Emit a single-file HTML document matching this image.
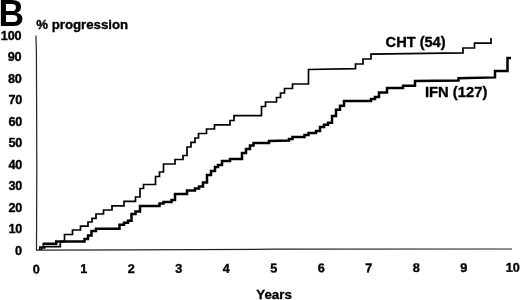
<!DOCTYPE html>
<html><head><meta charset="utf-8"><title>B</title>
<style>
html,body{margin:0;padding:0;background:#fff;}
body{width:520px;height:300px;overflow:hidden;}
svg{display:block;}
text{font-family:"Liberation Sans",Arial,Helvetica,sans-serif;font-weight:bold;fill:#000;stroke:#000;stroke-width:0.35px;}
.t{font-size:12.7px;letter-spacing:-0.2px;}
.l{font-size:14.6px;}
</style></head><body>
<svg width="520" height="300" viewBox="0 0 520 300">
<rect width="520" height="300" fill="#fff"/>
<text x="-1.6" y="26.1" font-size="36" style="stroke-width:0" textLength="25.6" lengthAdjust="spacingAndGlyphs">B</text>
<text x="36.2" y="29" font-size="13.4" textLength="92" lengthAdjust="spacingAndGlyphs">% progression</text>
<g class="t">
<text x="21.4" y="39.60" text-anchor="end">100</text>
<text x="21.4" y="61.12" text-anchor="end">90</text>
<text x="21.7" y="82.65" text-anchor="end">80</text>
<text x="22.1" y="104.17" text-anchor="end">70</text>
<text x="22.1" y="125.70" text-anchor="end">60</text>
<text x="22.1" y="147.22" text-anchor="end">50</text>
<text x="22.1" y="168.75" text-anchor="end">40</text>
<text x="22.1" y="190.27" text-anchor="end">30</text>
<text x="22.1" y="211.80" text-anchor="end">20</text>
<text x="22.1" y="233.32" text-anchor="end">10</text>
<text x="21.9" y="254.85" text-anchor="end">0</text>
</g>
<g class="t" transform="rotate(-0.17 36.4 250)">
<text x="36.00" y="273.5" text-anchor="middle">0</text>
<text x="83.50" y="273.2" text-anchor="middle">1</text>
<text x="131.00" y="273.2" text-anchor="middle">2</text>
<text x="178.50" y="273.2" text-anchor="middle">3</text>
<text x="226.00" y="273.2" text-anchor="middle">4</text>
<text x="273.50" y="273.2" text-anchor="middle">5</text>
<text x="321.00" y="273.2" text-anchor="middle">6</text>
<text x="368.50" y="273.2" text-anchor="middle">7</text>
<text x="416.00" y="273.2" text-anchor="middle">8</text>
<text x="463.50" y="273.2" text-anchor="middle">9</text>
<text x="512.60" y="273.2" text-anchor="middle">10</text>
</g>
<path d="M35.9,35.6 L36.4,52 L36.6,100 L36.8,170 L36.5,250.1 L131,249.8 L274,249.2 L512,249" fill="none" stroke="#222" stroke-width="1.2"/>
<text x="274.1" y="298.9" font-size="13.3" text-anchor="middle">Years</text>
<text x="385.6" y="47.2" class="l" textLength="60" lengthAdjust="spacingAndGlyphs">CHT (54)</text>
<text x="424.9" y="97.1" class="l" textLength="62.5" lengthAdjust="spacingAndGlyphs">IFN (127)</text>
<path d="M 41.3,250 V 247.9 H 44.6 V 246.7 H 60.3 V 241.7 H 64.5 V 234.5 H 72.5 V 230 H 80.5 V 226.2 H 88 V 222 H 92 V 218.3 H 96 V 214 H 103.5 V 210 H 112 V 205.8 H 124 V 201.3 H 135.5 V 197 H 140 V 188.5 H 143.5 V 184.5 H 155.5 V 176.5 H 159.5 V 172 H 163.5 V 164 H 175 V 159.5 H 183 V 155.5 H 187 V 147 H 191 V 142.3 H 195 V 138 H 198.5 V 133.5 H 206.5 V 129 H 214.5 V 124.8 H 230 V 120.5 H 234 V 115.7 H 261.5 V 106.5 H 265.5 V 102 H 276.5 V 97.5 H 280.5 V 93 H 284.5 V 88.5 H 292.5 V 84 H 308.5 V 69.5 L 355.5,68.7 V 64 H 363 V 59 H 371 V 54.2 L 463,52.8 V 48 H 474.5 V 43.2 H 491 V 38" fill="none" stroke="#000" stroke-width="1.7" stroke-linejoin="miter"/>
<path d="M 39.7,250 V 247 H 43.3 V 243.8" fill="none" stroke="#000" stroke-width="1.4"/>
<path d="M 42.6,243.8 H 56.2 V 241.6 H 84.5 V 239 H 88 V 235.5 H 91.5 V 231 H 96 V 228.7 H 119.5 V 224.8 H 124 V 222.8 H 128 V 220.8 H 131.5 V 214 H 135.5 V 211.5 H 140 V 206 H 159.5 V 203.5 H 163.5 V 202 H 171.5 V 200 H 175 V 194 H 187 V 190.5 H 195 V 188.5 H 199 V 186.5 H 203 V 182.5 H 207 V 175 H 211 V 171 H 215 V 167 H 218 V 165 H 222 V 161 H 230 V 159 H 242 V 153 H 246 V 149 H 250 V 145.5 H 253.5 V 143 H 269 V 141 L 289,140.6 V 139 H 292.5 V 137 H 304.5 V 134.9 H 308.5 V 132.9 H 316 V 130.9 H 320 V 126.9 H 324 V 124.7 H 328 V 122.7 H 332 V 116 H 336 V 109.7 H 340 V 105.7 H 344 V 101 H 371 V 99 H 375 V 97 H 379 V 92.5 H 387 V 88 H 403 V 85.7 H 415 V 81 L 458.5,80.5 V 78.3 L 495,77.4 V 71 H 507.5 V 58 H 511" fill="none" stroke="#000" stroke-width="2.5" stroke-linejoin="miter"/>
</svg>
</body></html>
